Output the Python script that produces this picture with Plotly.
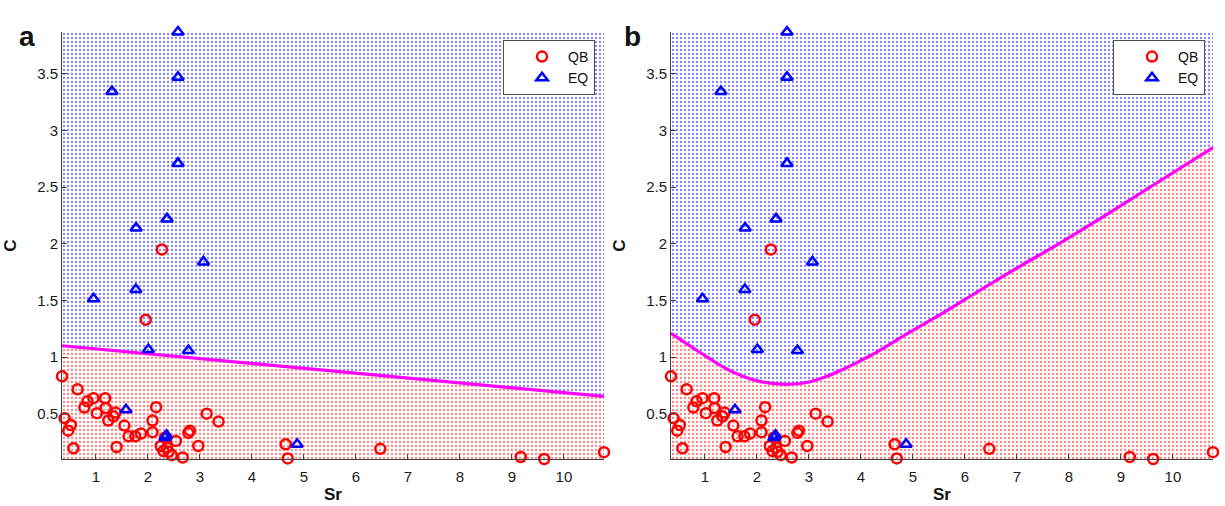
import plotly.graph_objects as go

# ---------------- data ----------------
qb_sr = [0.35, 0.40, 0.47, 0.52, 0.57, 0.65, 0.78, 0.84, 0.955, 1.02, 1.18, 1.19, 1.24,
         1.34, 1.38, 1.40, 1.55, 1.63, 1.76, 1.87, 1.96, 2.09, 2.09, 2.16, 2.27, 2.25,
         2.30, 2.37, 2.40, 2.33, 2.46, 2.54, 2.67, 2.78, 2.81, 2.97, 3.13, 3.36, 4.65,
         4.69, 6.47, 9.17, 9.62, 10.77]
qb_c = [0.83, 0.46, 0.35, 0.40, 0.195, 0.715, 0.555, 0.61, 0.637, 0.505, 0.637, 0.55, 0.44,
        0.477, 0.51, 0.206, 0.395, 0.30, 0.30, 0.325, 1.33, 0.44, 0.337, 0.558, 1.95, 0.215,
        0.17, 0.20, 0.163, 0.29, 0.134, 0.26, 0.113, 0.33, 0.35, 0.215, 0.50, 0.43, 0.23,
        0.105, 0.19, 0.118, 0.10, 0.16]

eq_sr = [2.58, 2.58, 1.31, 2.58, 2.37, 1.775, 3.07, 0.955, 1.77, 2.01, 2.78, 1.58, 2.33, 2.36, 4.87]
eq_c = [3.87, 3.47, 3.345, 2.71, 2.22, 2.14, 1.84, 1.515, 1.596, 1.067, 1.058, 0.535, 0.29, 0.31, 0.23]

# decision boundaries
bound_a_sr = [0.35, 10.77]
bound_a_c = [1.10, 0.653]
bound_b_sr = [0.35, 0.76, 1.08, 1.40, 1.73, 2.05, 2.35, 2.62, 3.01, 3.35, 3.65, 4.00, 4.29,
              4.94, 5.58, 6.22, 7.09, 7.73, 8.80, 9.80, 10.77]
bound_b_c = [1.21, 1.085, 0.99, 0.90, 0.83, 0.785, 0.765, 0.76, 0.78, 0.83, 0.89, 0.97, 1.04,
             1.22, 1.39, 1.57, 1.81, 1.98, 2.28, 2.57, 2.85]

x_ticks = [1, 2, 3, 4, 5, 6, 7, 8, 9, 10]
y_ticks = [0.5, 1, 1.5, 2, 2.5, 3, 3.5]
y_ticklabels = ["0.5", "1", "1.5", "2", "2.5", "3", "3.5"]
panel_labels = ["a", "b"]

# ---------------- figure ----------------
all_x = qb_sr + eq_sr
all_y = qb_c + eq_c
xmin, xmax = min(all_x), max(all_x)
ymin, ymax = min(all_y), max(all_y)

W, H = 1225, 506
x_domains = [[62 / W, 604 / W], [671 / W, 1213 / W]]
y_domain = [(H - 459) / H, (H - 32) / H]

FONT = "Liberation Sans, Arial, Helvetica, sans-serif"
AXC = "#404040"

fig = go.Figure()

bounds = [(bound_a_sr, bound_a_c), (bound_b_sr, bound_b_c)]
for i, (bx, by) in enumerate(bounds):
    xa = "x" if i == 0 else "x2"
    ya = "y" if i == 0 else "y2"
    lg = "legend" if i == 0 else "legend2"
    shp = "spline" if i == 1 else "linear"
    # EQ region (above boundary)
    fig.add_trace(go.Scatter(
        x=bx + [xmax, xmin], y=by + [ymax, ymax], xaxis=xa, yaxis=ya,
        mode="lines", fill="toself", line=dict(width=0, shape=shp), fillcolor="rgba(0,0,0,0)",
        fillpattern=dict(shape=".", fgcolor="rgb(0,0,255)", bgcolor="white",
                         size=4, solidity=0.25),
        showlegend=False, hoverinfo="skip"))
    # QB region (below boundary)
    fig.add_trace(go.Scatter(
        x=bx + [xmax, xmin], y=by + [ymin, ymin], xaxis=xa, yaxis=ya,
        mode="lines", fill="toself", line=dict(width=0, shape=shp), fillcolor="rgba(0,0,0,0)",
        fillpattern=dict(shape=".", fgcolor="rgb(255,0,0)", bgcolor="white",
                         size=4, solidity=0.25),
        showlegend=False, hoverinfo="skip"))
    # boundary line
    fig.add_trace(go.Scatter(
        x=bx, y=by, xaxis=xa, yaxis=ya, mode="lines",
        line=dict(color="#ff00ff", width=3.2, shape=shp),
        showlegend=False, hoverinfo="skip"))
    fig.add_trace(go.Scatter(
        x=qb_sr, y=qb_c, xaxis=xa, yaxis=ya, mode="markers", name="QB", legend=lg,
        marker=dict(symbol="circle-open", color="red", size=10, line=dict(width=2.5)),
        cliponaxis=False))
    fig.add_trace(go.Scatter(
        x=eq_sr, y=eq_c, xaxis=xa, yaxis=ya, mode="markers", name="EQ", legend=lg,
        marker=dict(symbol="triangle-up-open", color="blue", size=10, line=dict(width=2.5)),
        cliponaxis=False))

axis_common = dict(showline=True, linecolor=AXC, linewidth=1, ticks="inside", ticklen=5,
                   tickcolor=AXC, showgrid=False, zeroline=False, mirror=False,
                   automargin=False,
                   tickfont=dict(family=FONT, size=15, color="#1a1a1a"))

legend_common = dict(bgcolor="white", bordercolor="#505050", borderwidth=1,
                     font=dict(family=FONT, size=14, color="#111"),
                     xanchor="right", yanchor="top", indentation=12, itemwidth=42,
                     tracegroupgap=0)

title_font = dict(family=FONT, size=17, color="#111")

fig.update_layout(
    width=W, height=H, margin=dict(l=0, r=0, t=0, b=0),
    paper_bgcolor="white", plot_bgcolor="white",
    font=dict(family=FONT),
    xaxis=dict(domain=x_domains[0], range=[xmin, xmax], tickvals=x_ticks, ticklabelstandoff=4,
               title=dict(text="<b>Sr</b>", font=title_font, standoff=4),
               anchor="y", **axis_common),
    yaxis=dict(domain=y_domain, range=[ymin, ymax], tickvals=y_ticks, ticktext=y_ticklabels,
               title=dict(text="<b>C</b>", font=title_font, standoff=16),
               anchor="x", **axis_common),
    xaxis2=dict(domain=x_domains[1], range=[xmin, xmax], tickvals=x_ticks, ticklabelstandoff=4,
                title=dict(text="<b>Sr</b>", font=title_font, standoff=4),
                anchor="y2", **axis_common),
    yaxis2=dict(domain=y_domain, range=[ymin, ymax], tickvals=y_ticks, ticktext=y_ticklabels,
                title=dict(text="<b>C</b>", font=title_font, standoff=16),
                anchor="x2", **axis_common),
    legend=dict(x=595 / W, y=(H - 40) / H, **legend_common),
    legend2=dict(x=1205 / W, y=(H - 40) / H, **legend_common),
    annotations=[
        dict(text="<b>%s</b>" % panel_labels[0], x=17 / W, y=(H - 19) / H, xref="paper",
             yref="paper", showarrow=False, font=dict(family=FONT, size=28, color="#111")),
        dict(text="<b>%s</b>" % panel_labels[1], x=632 / W, y=(H - 19) / H, xref="paper",
             yref="paper", showarrow=False, font=dict(family=FONT, size=28, color="#111")),
    ],
)

fig.write_html("out.html", config={"displayModeBar": False},
               post_script="document.body.style.margin='0';document.body.style.overflow='hidden';")
